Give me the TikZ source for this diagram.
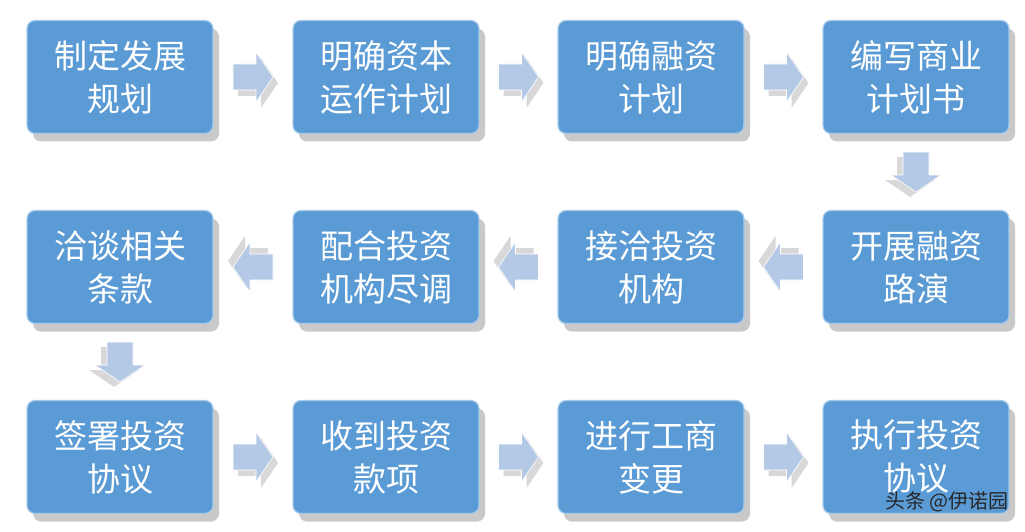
\documentclass[tikz,border=0pt]{standalone}
\usepackage{fontspec}
\newfontfamily\cjk{Noto Sans CJK SC}
\usetikzlibrary{shadows,calc}
\definecolor{boxblue}{HTML}{5B9BD5}
\definecolor{boxedge}{HTML}{A9CBEA}
\definecolor{arrowblue}{HTML}{B4C9E6}
\tikzset{
 stepbox/.style={draw=boxedge,line width=1.2pt,fill=boxblue,rounded corners=8pt,minimum width=186pt,minimum height=113pt,inner sep=0pt,
   text=white,font=\cjk\fontsize{33}{43}\selectfont,align=center,
   drop shadow={shadow xshift=6pt,shadow yshift=-8pt,opacity=0.35,fill=black!60}},
 flowarrow/.pic={
   \fill[black!60,opacity=0.25,xshift=5pt,yshift=-6pt] (-20,-13) -- (3,-13) -- (3,-25) -- (20,0) -- (3,25) -- (3,13) -- (-20,13) -- cycle;
   \filldraw[fill=arrowblue,draw=white,line width=0.6pt] (-20,-13) -- (3,-13) -- (3,-25) -- (20,0) -- (3,25) -- (3,13) -- (-20,13) -- cycle;
 },
}
\begin{document}
\begin{tikzpicture}[x=1pt,y=-1pt]
\useasboundingbox (0,0) rectangle (1025,532);
\fill[white] (0,0) rectangle (1025,532);
\node[stepbox] (a1) at (120,77) {制定发展\\规划};
\node[stepbox] (a2) at (386,77) {明确资本\\运作计划};
\node[stepbox] (a3) at (651,77) {明确融资\\计划};
\node[stepbox] (a4) at (916,77) {编写商业\\计划书};
\node[stepbox] (b4) at (916,267) {开展融资\\路演};
\node[stepbox] (b3) at (651,267) {接洽投资\\机构};
\node[stepbox] (b2) at (386,267) {配合投资\\机构尽调};
\node[stepbox] (b1) at (120,267) {洽谈相关\\条款};
\node[stepbox] (c1) at (120,457) {签署投资\\协议};
\node[stepbox] (c2) at (386,457) {收到投资\\款项};
\node[stepbox] (c3) at (651,457) {进行工商\\变更};
\node[stepbox] (c4) at (916,457) {执行投资\\协议};
\foreach \p/\q in {a1/a2,a2/a3,a3/a4,c1/c2,c2/c3,c3/c4}
  \pic at ($(\p.east)!0.5!(\q.west)$) {flowarrow};
\foreach \p/\q in {b4/b3,b3/b2,b2/b1}
  \pic[rotate=180] at ($(\p.west)!0.5!(\q.east)$) {flowarrow};
\pic[rotate=-90] at ($(a4.south)!0.5!(b4.north)$) {flowarrow};
\pic[rotate=-90] at ($(b1.south)!0.5!(c1.north)$) {flowarrow};
\node[text=black!85,font=\cjk\fontsize{20}{24}\selectfont,anchor=east] (wm) at (1012,502) {头条 @伊诺园};
\end{tikzpicture}
\end{document}
